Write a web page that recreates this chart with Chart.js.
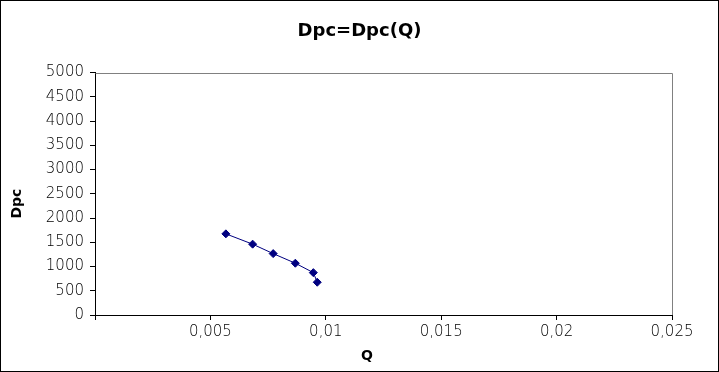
<!DOCTYPE html>
<html>
<head>
<meta charset="utf-8">
<script src="https://cdn.jsdelivr.net/npm/chart.js@4"></script>
<style>
  html, body { margin: 0; padding: 0; background: #fff; }
  canvas { display: block; }
</style>
</head>
<body>
<canvas id="chart" width="719" height="372"></canvas>
<script>
// Dpc as a function of Q
const qValues = [0.00567, 0.00683, 0.00772, 0.00868, 0.00946, 0.00963];
const dpcValues = [1674, 1461, 1266, 1068, 874, 676];

const xMin = 0, xMax = 0.025, xStep = 0.005;
const yMin = 0, yMax = 5000, yStep = 500;

const chartTitle = 'Dpc=Dpc(Q)';
const xTitle = 'Q';
const yTitle = 'Dpc';

const points = qValues.map((q, i) => ({ x: q, y: dpcValues[i] }));

const fontFamily = '"DejaVu Sans", Verdana, sans-serif';

// gray top/right edge of plot area, black frame round the picture, axis titles
const framePlugin = {
    id: 'frame',
    beforeDraw(chart) {
        const ctx = chart.ctx;
        ctx.save();
        ctx.fillStyle = '#fff';
        ctx.fillRect(0, 0, chart.width, chart.height);
        ctx.restore();
    },
    afterDraw(chart) {
        const ctx = chart.ctx;
        const a = chart.chartArea;
        ctx.save();
        ctx.strokeStyle = '#808080';
        ctx.lineWidth = 1;
        ctx.beginPath();
        ctx.moveTo(Math.round(a.left) + 0.5, Math.round(a.top) + 0.5);
        ctx.lineTo(Math.round(a.right) + 0.5, Math.round(a.top) + 0.5);
        ctx.lineTo(Math.round(a.right) + 0.5, Math.round(a.bottom));
        ctx.stroke();
        ctx.strokeStyle = '#000';
        ctx.strokeRect(0.5, 0.5, chart.width - 1, chart.height - 1);

        // axis titles (Excel places them a bit off the plot centre)
        ctx.fillStyle = '#000';
        ctx.font = 'bold 14px ' + fontFamily;
        ctx.textAlign = 'center';
        ctx.textBaseline = 'middle';
        ctx.fillText(xTitle, a.left + 272, chart.height - 16);
        ctx.translate(17, a.top + 131);
        ctx.rotate(-Math.PI / 2);
        ctx.fillText(yTitle, 0, 0);
        ctx.restore();
    }
};

new Chart(document.getElementById('chart').getContext('2d'), {
    type: 'scatter',
    data: {
        datasets: [{
            data: points,
            showLine: true,
            borderColor: '#000080',
            backgroundColor: '#000080',
            borderWidth: 1,
            pointStyle: 'rectRot',
            pointRadius: 4,
            pointHoverRadius: 4
        }]
    },
    options: {
        responsive: false,
        animation: false,
        layout: { padding: 0 },
        plugins: {
            legend: { display: false },
            tooltip: { enabled: false },
            title: {
                display: true,
                text: chartTitle,
                color: '#000',
                font: { family: fontFamily, size: 18, weight: 'bold' },
                padding: { top: 21, bottom: 30 }
            }
        },
        scales: {
            x: {
                type: 'linear',
                min: xMin,
                max: xMax,
                afterFit(scale) { scale.height = 57; },
                border: { display: true, color: '#000', width: 1 },
                grid: { display: true, drawOnChartArea: false, drawTicks: true, tickLength: 5, color: '#000' },
                ticks: {
                    stepSize: xStep,
                    color: '#000',
                    padding: 3,
                    maxRotation: 0,
                    font: { family: fontFamily, size: 15, weight: 300 },
                    callback: v => v === 0 ? '' : String(Number(v.toFixed(4))).replace('.', ',')
                }
            },
            y: {
                type: 'linear',
                min: yMin,
                max: yMax,
                afterFit(scale) { scale.width = 95; },
                border: { display: true, color: '#000', width: 1 },
                grid: { display: true, drawOnChartArea: false, drawTicks: true, tickLength: 5, color: '#000' },
                ticks: {
                    stepSize: yStep,
                    color: '#000',
                    padding: 6,
                    font: { family: fontFamily, size: 15, weight: 300 },
                    callback: v => String(v)
                }
            },
            // empty right-hand strip so the plot ends where it does in the reference
            yRight: {
                type: 'linear',
                position: 'right',
                display: true,
                afterFit(scale) { scale.width = 47; },
                border: { display: false },
                grid: { display: false },
                ticks: { display: false }
            }
        }
    },
    plugins: [framePlugin]
});
</script>
</body>
</html>
